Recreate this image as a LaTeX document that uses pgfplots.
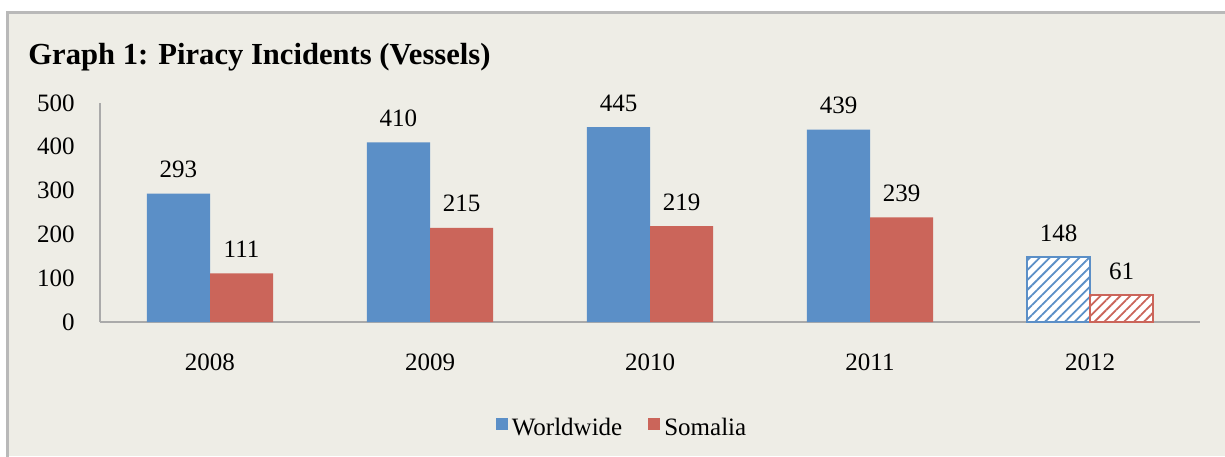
\documentclass[border=0pt]{standalone}
\usepackage{fontspec}
\setmainfont{Liberation Serif}
\usepackage{pgfplots}
\pgfplotsset{compat=1.18}
\usetikzlibrary{patterns.meta}

\definecolor{bgc}{RGB}{238,237,230}
\definecolor{framec}{RGB}{185,185,185}
\definecolor{axc}{RGB}{170,170,170}
\definecolor{wwblue}{RGB}{91,143,199}
\definecolor{somred}{RGB}{203,101,90}

\begin{document}
\begin{tikzpicture}
% panel (1px = 0.5pt)
\fill[white] (0pt,0pt) rectangle (612.5pt,228pt);
\fill[bgc] (3.75pt,0pt) rectangle (612.5pt,221.5pt);
\draw[framec, line width=1.5pt] (3.75pt,-2pt) -- (3.75pt,221.5pt) -- (615pt,221.5pt);
\node[anchor=west, inner sep=0pt, font=\fontsize{15.3}{18}\selectfont\bfseries] at (14pt,199.5pt)
  {Graph 1: Piracy Incidents (Vessels)};

\begin{axis}[
  at={(50pt,67pt)}, anchor=south west,
  scale only axis, width=550pt, height=109.5pt,
  xmin=-0.5, xmax=4.5, ymin=0, ymax=500,
  axis x line=bottom, axis y line=left,
  x axis line style={-, draw=axc, line width=1pt},
  y axis line style={-, draw=axc, line width=0.6pt},
  major tick length=0pt,
  xtick={0,1,2,3,4},
  xticklabels={2008,2009,2010,2011,2012},
  ytick={0,100,200,300,400,500},
  /pgf/number format/assume math mode=true,
  tick label style={font=\fontsize{12.5}{14}\selectfont, inner sep=0pt},
  xticklabel style={anchor=center, yshift=-20pt},
  yticklabel style={anchor=east, xshift=-12.5pt},
  ybar, bar width=0.2864,
  nodes near coords,
  every node near coord/.append style={font=\fontsize{12.5}{14}\selectfont, anchor=base, yshift=8pt},
  legend style={at={(0.4755,-0.484)}, anchor=center, draw=none, fill=none,
    legend columns=2, font=\fontsize{12.5}{14}\selectfont,
    /tikz/every even column/.append style={column sep=11pt}},
  legend image code/.code={\fill[#1] (0pt,-1pt) rectangle (6pt,5pt);},
]
\addplot[fill=wwblue, draw=none, bar shift=-0.1432]
  coordinates {(0,293) (1,410) (2,445) (3,439)};
\addlegendentry{Worldwide}
\addplot[fill=somred, draw=none, bar shift=0.1432]
  coordinates {(0,111) (1,215) (2,219) (3,239)};
\addlegendentry{Somalia}
% 2012: hatched
\addplot[fill=white, draw=wwblue, line width=0.8pt, bar shift=-0.1432, forget plot,
  postaction={pattern={Lines[angle=45,distance=3.5pt,line width=0.9pt]}, pattern color=wwblue}]
  coordinates {(4,148)};
\addplot[fill=white, draw=somred, line width=0.8pt, bar shift=0.1432, forget plot,
  postaction={pattern={Lines[angle=45,distance=3.5pt,line width=0.9pt]}, pattern color=somred}]
  coordinates {(4,61)};
\end{axis}
\pgfresetboundingbox
\useasboundingbox (0pt,0pt) rectangle (612.5pt,228pt);
\end{tikzpicture}
\end{document}
